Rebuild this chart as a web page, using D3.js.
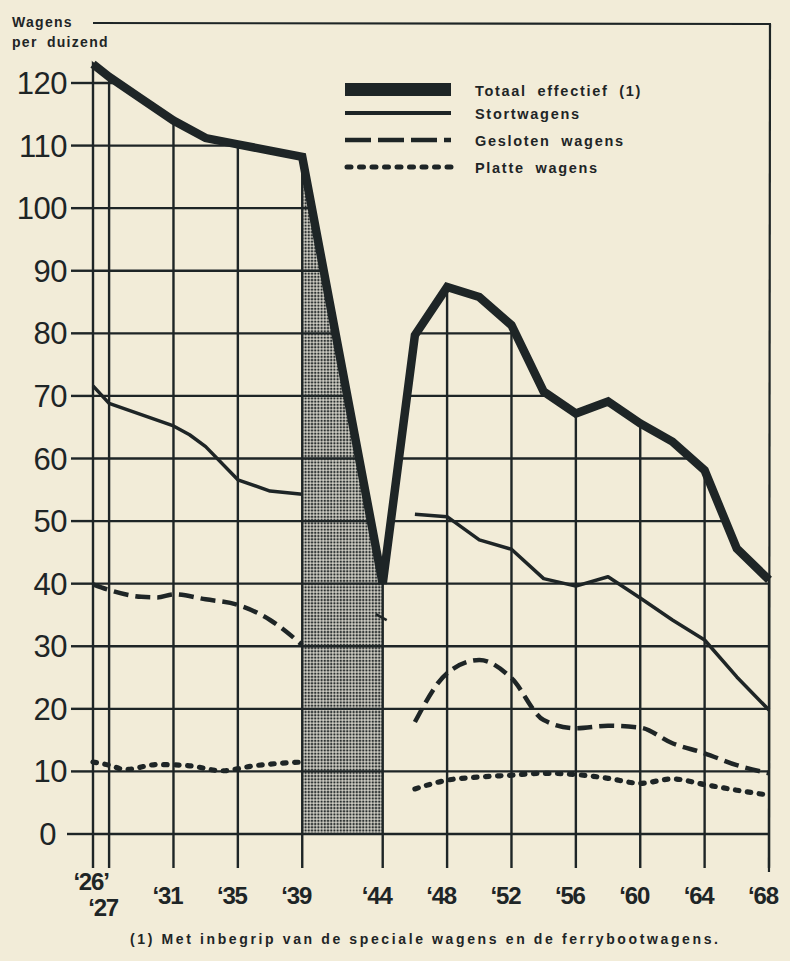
<!DOCTYPE html>
<html>
<head>
<meta charset="utf-8">
<script src="https://cdn.jsdelivr.net/npm/d3@7"></script>
<style>
  html, body { margin: 0; padding: 0; background: #f2ecd8; }
  svg { display: block; }
</style>
</head>
<body>
<script>
// values (wagens per duizend)
const gridYears = [1926, 1927, 1931, 1935, 1939, 1944, 1948, 1952, 1956, 1960, 1964, 1968];
const yearLabels = ["‘31", "‘35", "‘39", "‘44", "‘48", "‘52", "‘56", "‘60", "‘64", "‘68"];
const yTicks = [0, 10, 20, 30, 40, 50, 60, 70, 80, 90, 100, 110, 120];

const totaal = [
  [1926, 123.0], [1927, 121.0], [1929, 117.5], [1931, 114.0], [1933, 111.2], [1935, 110.2],
  [1937, 109.2], [1939, 108.2], [1944, 40.0], [1946, 79.7], [1948, 87.4], [1950, 85.8],
  [1952, 81.3], [1954, 70.7], [1956, 67.2], [1958, 69.1], [1960, 65.6], [1962, 62.7],
  [1964, 58.1], [1966, 45.6], [1968, 40.6]
];
const stortwagens = [
  [1926, 71.6], [1927, 68.8], [1929, 67.0], [1931, 65.2], [1932, 63.8], [1933, 61.9],
  [1935, 56.6], [1937, 54.8], [1939, 54.3], [1940, null],
  [1946, 51.1], [1948, 50.7], [1950, 47.0], [1952, 45.5], [1954, 40.8], [1956, 39.6],
  [1958, 41.1], [1960, 37.7], [1962, 34.2], [1964, 31.0], [1966, 25.1], [1968, 19.8]
];
const gesloten = [
  [1926, 39.9], [1927, 39.0], [1929, 37.9], [1930, 37.8], [1931, 38.3], [1933, 37.5],
  [1935, 36.6], [1937, 34.2], [1939, 30.2], [1940, null],
  [1946, 17.9], [1948, 25.7], [1950, 27.8], [1952, 24.9], [1954, 18.2], [1956, 16.9],
  [1958, 17.3], [1960, 17.0], [1962, 14.5], [1964, 12.9], [1966, 11.0], [1968, 9.7]
];
const gesloten1944 = 34.5;
const platte = [
  [1926, 11.5], [1927, 11.0], [1928, 10.3], [1930, 11.1], [1932, 10.9], [1934, 10.1],
  [1936, 10.9], [1939, 11.5], [1940, null],
  [1946, 7.2], [1948, 8.6], [1950, 9.1], [1952, 9.4], [1954, 9.7], [1956, 9.5],
  [1958, 8.9], [1960, 8.1], [1962, 8.8], [1964, 7.9], [1966, 7.0], [1968, 6.2]
];
const legendItems = ["Totaal effectief (1)", "Stortwagens", "Gesloten wagens", "Platte wagens"];

const width = 790, height = 961;
const ink = "#1e2526";

const svg = d3.select("body").append("svg")
  .attr("width", width)
  .attr("height", height);

svg.append("rect").attr("width", width).attr("height", height).attr("fill", "#f2ecd8");

const x = d3.scaleLinear().domain([1926, 1968]).range([93, 769]);
const y = d3.scaleLinear().domain([0, 120]).range([834, 83]);
const bottom = 868;

// stipple pattern for the war years
const defs = svg.append("defs");
const pat = defs.append("pattern")
  .attr("id", "stip")
  .attr("width", 3.2).attr("height", 3.2)
  .attr("patternUnits", "userSpaceOnUse");
pat.append("rect").attr("width", 3.2).attr("height", 3.2).attr("fill", "#d2d0c6");
pat.append("circle").attr("cx", 1.6).attr("cy", 1.6).attr("r", 1.2).attr("fill", "#2b3030");

// grid is only drawn below the total line
const underTotal = d3.area()
  .x(d => x(d[0]))
  .y0(bottom)
  .y1(d => y(d[1]));

defs.append("mask")
  .attr("id", "gridMask")
  .attr("maskUnits", "userSpaceOnUse")
  .attr("x", 0).attr("y", 0).attr("width", width).attr("height", height)
  .append("path")
  .attr("d", underTotal(totaal))
  .attr("fill", "white")
  .attr("stroke", "white")
  .attr("stroke-width", 4);

// frame
svg.append("line")
  .attr("x1", 93).attr("x2", 771).attr("y1", 23).attr("y2", 24)
  .attr("stroke", ink).attr("stroke-width", 2.2);
svg.append("line")
  .attr("x1", 770).attr("x2", 769).attr("y1", 24).attr("y2", 872)
  .attr("stroke", ink).attr("stroke-width", 2.2);

// shaded war period
svg.append("path")
  .attr("d", d3.area().x(d => x(d[0])).y0(y(0)).y1(d => y(d[1]))(totaal.filter(d => d[0] >= 1939 && d[0] <= 1944)))
  .attr("fill", "url(#stip)");

// grid
const grid = svg.append("g").attr("mask", "url(#gridMask)")
  .attr("stroke", ink).attr("stroke-width", 2.4);

grid.selectAll("line.v")
  .data(gridYears)
  .enter().append("line")
  .attr("class", "v")
  .attr("x1", d => x(d)).attr("x2", d => x(d))
  .attr("y1", bottom).attr("y2", y(125));

grid.selectAll("line.h")
  .data(yTicks)
  .enter().append("line")
  .attr("class", "h")
  .attr("x1", x(1926)).attr("x2", x(1968))
  .attr("y1", d => y(d)).attr("y2", d => y(d));

// left ticks and y labels
svg.selectAll("line.tick")
  .data(yTicks)
  .enter().append("line")
  .attr("class", "tick")
  .attr("x1", d => d === 0 ? 67 : 71).attr("x2", x(1926))
  .attr("y1", d => y(d)).attr("y2", d => y(d))
  .attr("stroke", ink).attr("stroke-width", 2.4);

svg.selectAll("text.ylab")
  .data(yTicks)
  .enter().append("text")
  .attr("class", "ylab")
  .attr("x", d => d === 0 ? 56 : 67)
  .attr("y", d => y(d) + 11)
  .attr("text-anchor", "end")
  .attr("font-family", "Liberation Sans, sans-serif")
  .attr("font-size", 31)
  .attr("letter-spacing", -0.5)
  .attr("fill", ink)
  .text(d => d);

// y axis title
const unit = svg.append("g")
  .attr("font-family", "Liberation Sans, sans-serif")
  .attr("font-weight", "bold")
  .attr("font-size", 14)
  .attr("letter-spacing", 1.3)
  .attr("fill", ink);
unit.append("text").attr("x", 12).attr("y", 27).text("Wagens");
unit.append("text").attr("x", 12).attr("y", 47).attr("word-spacing", 4).text("per duizend");

// x labels
const xlab = svg.append("g")
  .attr("font-family", "Liberation Sans, sans-serif")
  .attr("font-weight", "bold")
  .attr("font-size", 24)
  .attr("letter-spacing", -1.2)
  .attr("fill", ink)
  .attr("text-anchor", "middle");
xlab.append("text").attr("x", x(1926) - 2).attr("y", 890).text("‘26’");
xlab.append("text").attr("x", x(1927) - 6).attr("y", 916).text("‘27");
xlab.selectAll("text.yr")
  .data(gridYears.slice(2))
  .enter().append("text")
  .attr("class", "yr")
  .attr("x", d => x(d) - 6)
  .attr("y", 904)
  .text((d, i) => yearLabels[i]);

// series
const line = d3.line()
  .defined(d => d[1] != null)
  .x(d => x(d[0]))
  .y(d => y(d[1]));
const smooth = d3.line()
  .defined(d => d[1] != null)
  .curve(d3.curveMonotoneX)
  .x(d => x(d[0]))
  .y(d => y(d[1]));

svg.append("path")
  .attr("d", line(stortwagens))
  .attr("fill", "none").attr("stroke", ink)
  .attr("stroke-width", 3.5).attr("stroke-linejoin", "round");

svg.append("path")
  .attr("d", smooth(gesloten))
  .attr("fill", "none").attr("stroke", ink)
  .attr("stroke-width", 4.5)
  .attr("stroke-dasharray", "15 7");

svg.append("line")
  .attr("x1", x(1944) - 7).attr("x2", x(1944) + 4)
  .attr("y1", y(gesloten1944) - 4).attr("y2", y(gesloten1944) + 2)
  .attr("stroke", ink).attr("stroke-width", 2.5);

svg.append("path")
  .attr("d", smooth(platte))
  .attr("fill", "none").attr("stroke", ink)
  .attr("stroke-width", 5.2)
  .attr("stroke-linecap", "round")
  .attr("stroke-dasharray", "3.5 8.5");

svg.append("path")
  .attr("d", line(totaal))
  .attr("fill", "none").attr("stroke", ink)
  .attr("stroke-width", 8.5).attr("stroke-linejoin", "miter")
  .attr("stroke-miterlimit", 6);

// legend
const legend = svg.append("g");
const lx0 = 345, lx1 = 451, ly = [89.5, 113, 140, 167];
legend.append("line").attr("x1", lx0).attr("x2", lx1).attr("y1", ly[0]).attr("y2", ly[0])
  .attr("stroke", ink).attr("stroke-width", 13);
legend.append("line").attr("x1", lx0).attr("x2", lx1).attr("y1", ly[1]).attr("y2", ly[1])
  .attr("stroke", ink).attr("stroke-width", 3.8);
legend.append("line").attr("x1", lx0).attr("x2", lx1).attr("y1", ly[2]).attr("y2", ly[2])
  .attr("stroke", ink).attr("stroke-width", 4.5).attr("stroke-dasharray", "26 7");
legend.append("line").attr("x1", lx0 + 2).attr("x2", lx1).attr("y1", ly[3]).attr("y2", ly[3])
  .attr("stroke", ink).attr("stroke-width", 5).attr("stroke-linecap", "round")
  .attr("stroke-dasharray", "4 8.5");

legend.selectAll("text")
  .data(legendItems)
  .enter().append("text")
  .attr("x", 475)
  .attr("y", (d, i) => ly[i] + 6)
  .attr("font-family", "Liberation Sans, sans-serif")
  .attr("font-weight", "bold")
  .attr("font-size", 14.5)
  .attr("letter-spacing", 1.7)
  .attr("word-spacing", 5)
  .attr("fill", ink)
  .text(d => d);

// footnote
svg.append("text")
  .attr("x", 130).attr("y", 944)
  .attr("textLength", 588)
  .attr("lengthAdjust", "spacing")
  .attr("font-family", "Liberation Sans, sans-serif")
  .attr("font-weight", "bold")
  .attr("font-size", 14)
  .attr("fill", ink)
  .text("(1) Met inbegrip van de speciale wagens en de ferrybootwagens.");
</script>
</body>
</html>
